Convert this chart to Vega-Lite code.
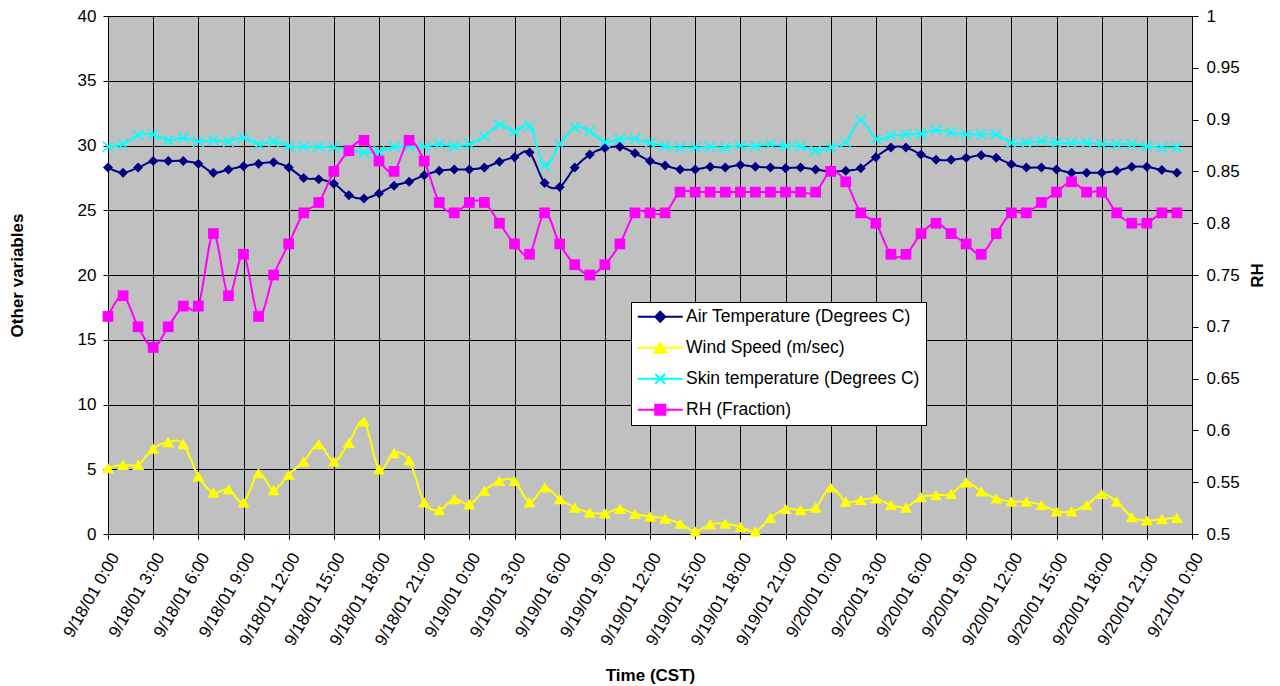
{
  "$schema": "https://vega.github.io/schema/vega-lite/v6.json",
  "width": 1084,
  "height": 518,
  "autosize": {"type": "none"},
  "padding": {"left": 108, "top": 16, "right": 88, "bottom": 152},
  "background": "#FFFFFF",
  "data": {"values": [
    {"t": "2001-09-18T00:00", "air": 28.3, "wind": 5.1, "skin": 29.9, "rh": 0.71},
    {"t": "2001-09-18T01:00", "air": 27.9, "wind": 5.35, "skin": 30.1, "rh": 0.73},
    {"t": "2001-09-18T02:00", "air": 28.3, "wind": 5.35, "skin": 30.8, "rh": 0.70},
    {"t": "2001-09-18T03:00", "air": 28.8, "wind": 6.6, "skin": 30.85, "rh": 0.68},
    {"t": "2001-09-18T04:00", "air": 28.8, "wind": 7.1, "skin": 30.4, "rh": 0.70},
    {"t": "2001-09-18T05:00", "air": 28.8, "wind": 6.95, "skin": 30.6, "rh": 0.72},
    {"t": "2001-09-18T06:00", "air": 28.6, "wind": 4.45, "skin": 30.3, "rh": 0.72},
    {"t": "2001-09-18T07:00", "air": 27.9, "wind": 3.2, "skin": 30.4, "rh": 0.79},
    {"t": "2001-09-18T08:00", "air": 28.15, "wind": 3.45, "skin": 30.3, "rh": 0.73},
    {"t": "2001-09-18T09:00", "air": 28.4, "wind": 2.45, "skin": 30.6, "rh": 0.77},
    {"t": "2001-09-18T10:00", "air": 28.6, "wind": 4.7, "skin": 30.1, "rh": 0.71},
    {"t": "2001-09-18T11:00", "air": 28.7, "wind": 3.4, "skin": 30.3, "rh": 0.75},
    {"t": "2001-09-18T12:00", "air": 28.3, "wind": 4.6, "skin": 29.95, "rh": 0.78},
    {"t": "2001-09-18T13:00", "air": 27.5, "wind": 5.6, "skin": 29.9, "rh": 0.81},
    {"t": "2001-09-18T14:00", "air": 27.4, "wind": 6.95, "skin": 29.9, "rh": 0.82},
    {"t": "2001-09-18T15:00", "air": 27.05, "wind": 5.6, "skin": 29.85, "rh": 0.85},
    {"t": "2001-09-18T16:00", "air": 26.15, "wind": 7.05, "skin": 29.7, "rh": 0.87},
    {"t": "2001-09-18T17:00", "air": 25.9, "wind": 8.7, "skin": 29.45, "rh": 0.88},
    {"t": "2001-09-18T18:00", "air": 26.3, "wind": 5.0, "skin": 29.55, "rh": 0.86},
    {"t": "2001-09-18T19:00", "air": 26.9, "wind": 6.25, "skin": 29.9, "rh": 0.85},
    {"t": "2001-09-18T20:00", "air": 27.2, "wind": 5.7, "skin": 29.95, "rh": 0.88},
    {"t": "2001-09-18T21:00", "air": 27.7, "wind": 2.45, "skin": 29.9, "rh": 0.86},
    {"t": "2001-09-18T22:00", "air": 28.05, "wind": 1.85, "skin": 30.1, "rh": 0.82},
    {"t": "2001-09-18T23:00", "air": 28.15, "wind": 2.7, "skin": 29.95, "rh": 0.81},
    {"t": "2001-09-19T00:00", "air": 28.15, "wind": 2.3, "skin": 30.1, "rh": 0.82},
    {"t": "2001-09-19T01:00", "air": 28.3, "wind": 3.35, "skin": 30.7, "rh": 0.82},
    {"t": "2001-09-19T02:00", "air": 28.75, "wind": 4.1, "skin": 31.6, "rh": 0.80},
    {"t": "2001-09-19T03:00", "air": 29.1, "wind": 4.1, "skin": 31.05, "rh": 0.78},
    {"t": "2001-09-19T04:00", "air": 29.45, "wind": 2.45, "skin": 31.5, "rh": 0.77},
    {"t": "2001-09-19T05:00", "air": 27.1, "wind": 3.6, "skin": 28.45, "rh": 0.81},
    {"t": "2001-09-19T06:00", "air": 26.8, "wind": 2.7, "skin": 30.1, "rh": 0.78},
    {"t": "2001-09-19T07:00", "air": 28.3, "wind": 2.05, "skin": 31.4, "rh": 0.76},
    {"t": "2001-09-19T08:00", "air": 29.3, "wind": 1.65, "skin": 31.1, "rh": 0.75},
    {"t": "2001-09-19T09:00", "air": 29.8, "wind": 1.6, "skin": 30.25, "rh": 0.76},
    {"t": "2001-09-19T10:00", "air": 29.9, "wind": 1.95, "skin": 30.5, "rh": 0.78},
    {"t": "2001-09-19T11:00", "air": 29.4, "wind": 1.55, "skin": 30.5, "rh": 0.81},
    {"t": "2001-09-19T12:00", "air": 28.8, "wind": 1.35, "skin": 30.2, "rh": 0.81},
    {"t": "2001-09-19T13:00", "air": 28.45, "wind": 1.2, "skin": 29.95, "rh": 0.81},
    {"t": "2001-09-19T14:00", "air": 28.15, "wind": 0.8, "skin": 29.85, "rh": 0.83},
    {"t": "2001-09-19T15:00", "air": 28.15, "wind": 0.2, "skin": 29.85, "rh": 0.83},
    {"t": "2001-09-19T16:00", "air": 28.35, "wind": 0.75, "skin": 29.9, "rh": 0.83},
    {"t": "2001-09-19T17:00", "air": 28.3, "wind": 0.8, "skin": 29.85, "rh": 0.83},
    {"t": "2001-09-19T18:00", "air": 28.5, "wind": 0.55, "skin": 30.0, "rh": 0.83},
    {"t": "2001-09-19T19:00", "air": 28.35, "wind": 0.2, "skin": 29.95, "rh": 0.83},
    {"t": "2001-09-19T20:00", "air": 28.3, "wind": 1.25, "skin": 30.1, "rh": 0.83},
    {"t": "2001-09-19T21:00", "air": 28.25, "wind": 1.95, "skin": 29.95, "rh": 0.83},
    {"t": "2001-09-19T22:00", "air": 28.3, "wind": 1.85, "skin": 29.95, "rh": 0.83},
    {"t": "2001-09-19T23:00", "air": 28.15, "wind": 2.05, "skin": 29.6, "rh": 0.83},
    {"t": "2001-09-20T00:00", "air": 28.0, "wind": 3.6, "skin": 29.85, "rh": 0.85},
    {"t": "2001-09-20T01:00", "air": 28.05, "wind": 2.5, "skin": 30.25, "rh": 0.84},
    {"t": "2001-09-20T02:00", "air": 28.25, "wind": 2.65, "skin": 31.95, "rh": 0.81},
    {"t": "2001-09-20T03:00", "air": 29.1, "wind": 2.75, "skin": 30.5, "rh": 0.80},
    {"t": "2001-09-20T04:00", "air": 29.85, "wind": 2.25, "skin": 30.75, "rh": 0.77},
    {"t": "2001-09-20T05:00", "air": 29.85, "wind": 2.05, "skin": 30.85, "rh": 0.77},
    {"t": "2001-09-20T06:00", "air": 29.3, "wind": 2.85, "skin": 30.9, "rh": 0.79},
    {"t": "2001-09-20T07:00", "air": 28.9, "wind": 3.0, "skin": 31.2, "rh": 0.80},
    {"t": "2001-09-20T08:00", "air": 28.9, "wind": 3.1, "skin": 31.0, "rh": 0.79},
    {"t": "2001-09-20T09:00", "air": 29.05, "wind": 4.0, "skin": 30.85, "rh": 0.78},
    {"t": "2001-09-20T10:00", "air": 29.25, "wind": 3.3, "skin": 30.85, "rh": 0.77},
    {"t": "2001-09-20T11:00", "air": 29.05, "wind": 2.75, "skin": 30.85, "rh": 0.79},
    {"t": "2001-09-20T12:00", "air": 28.55, "wind": 2.5, "skin": 30.2, "rh": 0.81},
    {"t": "2001-09-20T13:00", "air": 28.3, "wind": 2.5, "skin": 30.2, "rh": 0.81},
    {"t": "2001-09-20T14:00", "air": 28.3, "wind": 2.25, "skin": 30.35, "rh": 0.82},
    {"t": "2001-09-20T15:00", "air": 28.15, "wind": 1.75, "skin": 30.2, "rh": 0.83},
    {"t": "2001-09-20T16:00", "air": 27.9, "wind": 1.75, "skin": 30.2, "rh": 0.84},
    {"t": "2001-09-20T17:00", "air": 27.9, "wind": 2.25, "skin": 30.2, "rh": 0.83},
    {"t": "2001-09-20T18:00", "air": 27.9, "wind": 3.1, "skin": 30.1, "rh": 0.83},
    {"t": "2001-09-20T19:00", "air": 28.05, "wind": 2.5, "skin": 30.1, "rh": 0.81},
    {"t": "2001-09-20T20:00", "air": 28.35, "wind": 1.3, "skin": 30.1, "rh": 0.80},
    {"t": "2001-09-20T21:00", "air": 28.35, "wind": 1.05, "skin": 29.95, "rh": 0.80},
    {"t": "2001-09-20T22:00", "air": 28.1, "wind": 1.15, "skin": 29.85, "rh": 0.81},
    {"t": "2001-09-20T23:00", "air": 27.9, "wind": 1.25, "skin": 29.85, "rh": 0.81}
  ]},
  "layer": [
    {
      "transform": [{"fold": ["air", "wind", "skin"], "as": ["series", "val"]}],
      "encoding": {
        "x": {
          "field": "t", "type": "temporal",
          "scale": {"nice": false, "domain": [{"year": 2001, "month": 9, "date": 18, "hours": 0}, {"year": 2001, "month": 9, "date": 21, "hours": 0}]},
          "axis": {
            "title": "Time (CST)", "format": "%-m/%-d/%y %-H:%M", "tickCount": 24,
            "grid": true, "labelAngle": -60, "labelAlign": "right", "labelBaseline": "top", "labelPadding": 11,
            "labelOverlap": false, "labelFlush": false, "labelBound": false,
            "titleX": 542, "titleY": 141, "titleAlign": "center", "titleBaseline": "middle", "titleAngle": 0
          }
        },
        "y": {
          "field": "val", "type": "quantitative",
          "scale": {"domain": [0, 40], "nice": false, "zero": false},
          "axis": {
            "title": "Other variables", "values": [0, 5, 10, 15, 20, 25, 30, 35, 40], "grid": true,
            "labelPadding": 7, "titleX": -91, "titleY": 259, "titleAngle": -90, "titleAlign": "center", "titleBaseline": "middle"
          }
        }
      },
      "layer": [
        {
          "mark": {"type": "line", "interpolate": "cardinal", "strokeWidth": 2},
          "encoding": {
            "color": {
              "field": "series", "type": "nominal",
              "scale": {"domain": ["air", "wind", "skin", "rh"], "range": ["#000080", "#FFFF00", "#00FFFF", "#FF00FF"]}
            }
          }
        },
        {
          "transform": [{"filter": "datum.series === 'air'"}],
          "mark": {"type": "point", "shape": "diamond", "filled": true, "color": "#000080", "size": 100, "opacity": 1}
        },
        {
          "transform": [{"filter": "datum.series === 'wind'"}],
          "mark": {"type": "point", "shape": "triangle-up", "filled": true, "color": "#FFFF00", "size": 144, "opacity": 1}
        },
        {
          "transform": [{"filter": "datum.series === 'skin'"}],
          "mark": {"type": "point", "shape": "M-1,-1L1,1M-1,1L1,-1", "filled": false, "stroke": "#00FFFF", "strokeWidth": 1.6, "size": 110, "opacity": 1}
        },
        {
          "transform": [{"filter": "false"}],
          "mark": {"type": "point", "filled": true, "strokeWidth": 2, "opacity": 1},
          "encoding": {
            "color": {
              "field": "series", "type": "nominal",
              "legend": {"orient": "none", "legendX": 523, "legendY": 286, "title": null, "labelExpr": "datum.value === 'air' ? 'Air Temperature (Degrees C)\u00a0\u00a0\u00a0' : datum.value === 'wind' ? 'Wind Speed (m/sec)' : datum.value === 'skin' ? 'Skin temperature (Degrees C)\u00a0\u00a0\u00a0' : 'RH (Fraction)'"}
            },
            "stroke": {
              "field": "series", "type": "nominal",
              "scale": {"domain": ["air", "wind", "skin", "rh"], "range": ["#000080", "#FFFF00", "#00FFFF", "#FF00FF"]},
              "legend": {"orient": "none", "legendX": 523, "legendY": 286, "title": null, "labelExpr": "datum.value === 'air' ? 'Air Temperature (Degrees C)\u00a0\u00a0\u00a0' : datum.value === 'wind' ? 'Wind Speed (m/sec)' : datum.value === 'skin' ? 'Skin temperature (Degrees C)\u00a0\u00a0\u00a0' : 'RH (Fraction)'"}
            },
            "shape": {
              "field": "series", "type": "nominal",
              "scale": {"domain": ["air", "wind", "skin", "rh"], "range": ["M-4.5,0L4.5,0M0,-1L1,0L0,1L-1,0Z", "M-4.5,0L4.5,0M0,-0.95L1.2,1L-1.2,1Z", "M-4.5,0L4.5,0M-1,-1L1,1M-1,1L1,-1", "M-4.5,0L4.5,0M-1,-1L1,-1L1,1L-1,1Z"]},
              "legend": {"orient": "none", "legendX": 523, "legendY": 286, "title": null, "labelExpr": "datum.value === 'air' ? 'Air Temperature (Degrees C)\u00a0\u00a0\u00a0' : datum.value === 'wind' ? 'Wind Speed (m/sec)' : datum.value === 'skin' ? 'Skin temperature (Degrees C)\u00a0\u00a0\u00a0' : 'RH (Fraction)'"}
            }
          }
        }
      ]
    },
    {
      "encoding": {
        "x": {
          "field": "t", "type": "temporal",
          "scale": {"nice": false, "domain": [{"year": 2001, "month": 9, "date": 18, "hours": 0}, {"year": 2001, "month": 9, "date": 21, "hours": 0}]},
          "axis": {
            "title": "Time (CST)", "format": "%-m/%-d/%y %-H:%M", "tickCount": 24,
            "grid": true, "labelAngle": -60, "labelAlign": "right", "labelBaseline": "top", "labelPadding": 11,
            "labelOverlap": false, "labelFlush": false, "labelBound": false,
            "titleX": 542, "titleY": 141, "titleAlign": "center", "titleBaseline": "middle", "titleAngle": 0
          }
        },
        "y": {
          "field": "rh", "type": "quantitative",
          "scale": {"domain": [0.5, 1], "nice": false, "zero": false},
          "axis": {
            "orient": "right", "title": "RH", "grid": false, "format": "~g", "tickSize": 6,
            "values": [0.5, 0.55, 0.6, 0.65, 0.7, 0.75, 0.8, 0.85, 0.9, 0.95, 1],
            "labelPadding": 8, "titleX": 65, "titleY": 259, "titleAngle": -90, "titleAlign": "center", "titleBaseline": "middle"
          }
        }
      },
      "layer": [
        {
          "mark": {"type": "line", "interpolate": "cardinal", "strokeWidth": 2},
          "encoding": {"color": {"datum": "rh", "type": "nominal"}}
        },
        {
          "mark": {"type": "point", "shape": "square", "filled": true, "color": "#FF00FF", "size": 115, "opacity": 1}
        }
      ]
    }
  ],
  "resolve": {"scale": {"y": "independent"}},
  "config": {
    "font": "Liberation Sans",
    "view": {"fill": "#C0C0C0", "stroke": "#808080", "strokeWidth": 1},
    "axis": {
      "labelFont": "Liberation Sans", "labelFontSize": 17, "labelColor": "#000000",
      "titleFont": "Liberation Sans", "titleFontSize": 17, "titleFontWeight": "bold", "titleColor": "#000000",
      "domainColor": "#000000", "domainWidth": 1, "tickColor": "#000000", "tickSize": 5, "tickWidth": 1,
      "gridColor": "#000000", "gridOpacity": 1, "gridWidth": 1
    },
    "legend": {
      "labelFont": "Liberation Sans", "labelFontSize": 17.5, "labelColor": "#000000", "labelLimit": 0,
      "padding": 6, "strokeColor": "#000000", "fillColor": "#FFFFFF",
      "symbolSize": 100, "symbolOffset": 14.5, "labelOffset": 17, "rowPadding": 12, "symbolStrokeWidth": 2
    }
  }
}
